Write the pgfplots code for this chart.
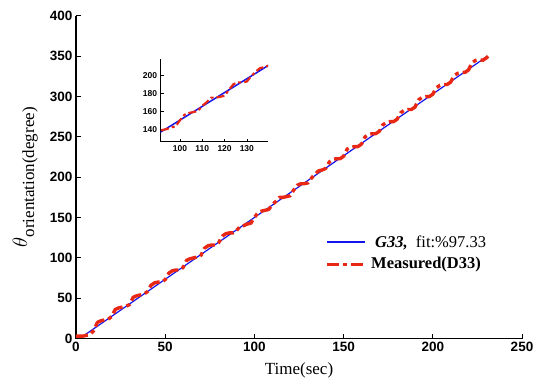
\documentclass[border=0pt]{standalone}
\usepackage{pgfplots}
\pgfplotsset{compat=1.18}
\usepackage{pgfplotstable}
\usepackage{fontspec}
\setmainfont{Liberation Serif}
\setsansfont{Liberation Sans}
\definecolor{mred}{RGB}{232,40,20}
\definecolor{mblue}{RGB}{20,20,235}

\pgfplotstableread{
t y
0 3
2 3
4 3
6 4
8 5
10 10
12 20
14 22
16 23
18 24
20 27
22 36
24 38
26 39
28 40
30 42
32 51
34 53
36 54
38 55
40 58
42 66
44 69
46 70
48 70
50 73
52 81
54 84
56 85
58 85
60 88
62 97
64 99
66 100
68 101
70 103
72 112
74 115
76 116
78 116
80 119
82 127
84 130
86 131
88 131
90 134
92 139
94 140
96 142
98 143
100 150
102 156
104 158
106 159
108 160
110 166
112 170
114 175
116 175
118 176
120 177
122 184
124 190
126 192
128 192
130 193
132 199
134 204
136 208
138 209
140 211
142 219
144 222
146 223
148 223
150 226
152 235
154 237
156 238
158 238
160 241
162 250
164 253
166 254
168 254
170 257
172 265
174 268
176 269
178 269
180 272
182 280
184 283
186 284
188 284
190 287
192 296
194 299
196 300
198 300
200 303
202 311
204 314
206 315
208 315
210 318
212 326
214 329
216 330
218 330
220 333
222 342
224 345
226 346
228 345
230 348
231 350
}\measured

\pgfplotstableread{
t y
4 3
230.5 350
}\fitline

\begin{document}
\begin{tikzpicture}
\begin{axis}[
  at={(0pt,0pt)}, anchor=south west,
  scale only axis, width=446pt, height=322.5pt,
  xmin=0, xmax=250, ymin=0, ymax=400,
  axis x line=bottom, axis y line=left,
  axis line style={line width=1.3pt, -},
  xtick={0,50,...,250}, ytick={0,50,...,400},
  tick align=inside, major tick length=5pt,
  every tick/.style={line width=1pt, black},
  tick label style={font=\fontsize{13.5}{15}\selectfont\sffamily\bfseries},
  /pgf/number format/assume math mode=true,
  xlabel={Time(sec)},
  xlabel style={font=\fontsize{17}{19}\selectfont, at={(axis description cs:0.5,-0.098)}, anchor=center},
  ylabel={\fontsize{22}{24}\selectfont$\theta$\raisebox{-7pt}{\fontsize{17}{19}\selectfont orientation(degree)}},
  every axis y label/.style={at={(axis description cs:-0.114,0.5)}, rotate=90, anchor=center},
  clip=false,
]
\addplot[color=mblue, line width=1.2pt] table[x=t,y=y] {\fitline};
\addplot[color=mred, line width=3.4pt, dash pattern=on 12pt off 4pt on 4pt off 4pt, line join=round] table[x=t,y=y] {\measured};
% legend
\draw[mblue, line width=1.6pt] (axis description cs:0.5628,0.2992) -- (axis description cs:0.648,0.2992);
\draw[mred, line width=3.4pt, dash pattern=on 12pt off 4pt on 4pt off 4pt] (axis description cs:0.5628,0.2301) -- (axis description cs:0.648,0.2301);
\node[anchor=west, inner sep=0pt, font=\fontsize{16.5}{18}\selectfont] at (axis description cs:0.6704,0.2972) {\textbf{\textit{G33,}}\ \ fit:\%97.33};
\node[anchor=west, inner sep=0pt, font=\fontsize{16.5}{18}\selectfont] at (axis description cs:0.6614,0.2301) {\textbf{Measured(D33)}};
\end{axis}

\begin{axis}[
  at={(84.7pt,196.8pt)}, anchor=south west,
  scale only axis, width=107.3pt, height=82.7pt,
  xmin=91.3, xmax=139.5, ymin=126, ymax=218,
  axis x line=bottom, axis y line=left,
  axis line style={line width=0.8pt, -},
  xtick={100,110,120,130}, ytick={140,160,180,200},
  tick align=inside, major tick length=3pt,
  every tick/.style={line width=0.6pt, black},
  tick label style={font=\fontsize{8.5}{10}\selectfont\sffamily\bfseries},
  /pgf/number format/assume math mode=true,
]
\addplot[color=mblue, line width=1.5pt] table[x=t,y=y] {\fitline};
\addplot[color=mred, line width=2.2pt, dash pattern=on 8pt off 3pt on 3pt off 3pt] table[x=t,y=y] {\measured};
\end{axis}
\pgfresetboundingbox
\path (-76pt,-41.5pt) rectangle (458pt,338.5pt);
\end{tikzpicture}
\end{document}
